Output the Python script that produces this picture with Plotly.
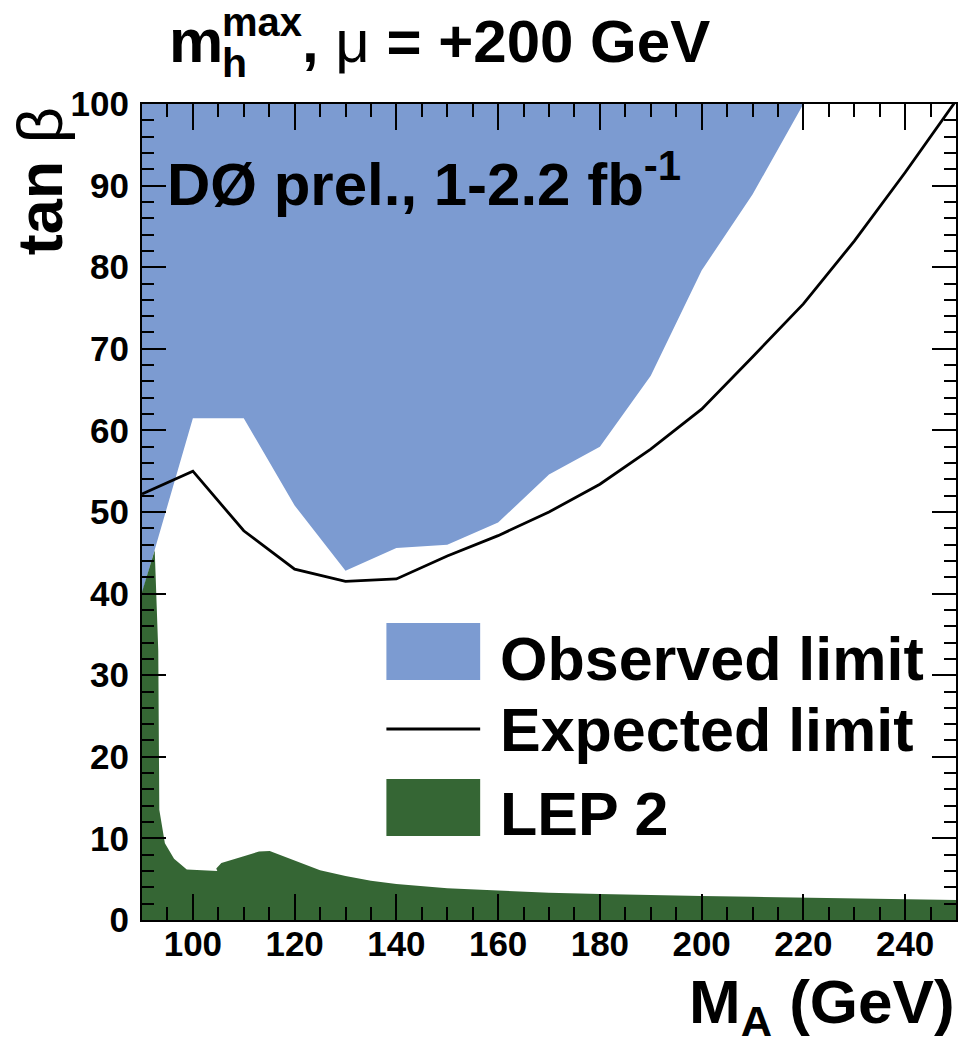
import plotly.graph_objects as go

# Axis ranges
X_MIN, X_MAX = 90, 250
Y_MIN, Y_MAX = 0, 100

# Observed exclusion boundary (excluded above)
obs_ma = [90, 100, 110, 120, 130, 140, 150, 160, 170, 180, 190, 200, 210, 220]
obs_tanb = [40.0, 61.5, 61.5, 50.8, 42.8, 45.6, 46.0, 48.7, 54.6, 58.0, 66.7, 79.6, 88.9, 100.0]

# Expected limit
exp_ma = [90, 100, 110, 120, 130, 140, 150, 160, 170, 180, 190, 200, 210, 220, 230, 240, 250]
exp_tanb = [52.2, 55.0, 47.7, 43.0, 41.5, 41.8, 44.6, 47.1, 50.0, 53.4, 57.7, 62.6, 69.0, 75.5, 83.2, 91.6, 100.4]

# LEP 2 excluded region (upper contour, filled down to tan beta = 0)
lep_ma = [90, 92.5, 93.2, 93.4, 94.5, 96.3, 98.8, 104.8, 104.6, 105.6, 110, 113, 115.1,
          120, 125, 130, 135, 140, 150, 160, 170, 180, 190, 200, 210, 220, 230, 240, 250]
lep_tanb = [40.2, 45.3, 33.0, 13.5, 9.4, 7.5, 6.2, 6.0, 6.3, 7.0, 7.8, 8.4, 8.45,
            7.3, 6.1, 5.4, 4.8, 4.4, 3.9, 3.6, 3.35, 3.2, 3.05, 2.94, 2.85, 2.73, 2.65, 2.57, 2.45]

legend_labels = ["Observed limit", "Expected limit", "LEP 2"]

BLUE = "#7c9bd1"
GREEN = "#356634"
FONT = "Liberation Sans, Arial, sans-serif"

W, H = 962, 1053
L, R, T, B = 142, 4, 104, 133
PW, PH = W - L - R, H - T - B


def px_x(p):
    return (p - L) / PW


def px_y(p):
    return (H - B - p) / PH


fig = go.Figure()

# Observed: fill from the boundary up to the top of the frame
fig.add_trace(go.Scatter(
    x=obs_ma + [obs_ma[-1], obs_ma[0]],
    y=obs_tanb + [Y_MAX, Y_MAX],
    fill="toself", fillcolor=BLUE, mode="lines", line=dict(width=0, color=BLUE),
    hoverinfo="skip", showlegend=False))

# Expected limit line
fig.add_trace(go.Scatter(
    x=exp_ma, y=exp_tanb, mode="lines", line=dict(color="black", width=2.8),
    hoverinfo="skip", showlegend=False))

# LEP 2 region
fig.add_trace(go.Scatter(
    x=lep_ma + [lep_ma[-1], lep_ma[0]],
    y=lep_tanb + [Y_MIN, Y_MIN],
    fill="toself", fillcolor=GREEN, mode="lines", line=dict(width=0, color=GREEN),
    hoverinfo="skip", showlegend=False))

axis_common = dict(
    showgrid=False, zeroline=False, showline=True, linecolor="black", linewidth=2,
    mirror="allticks", ticks="inside", tickcolor="black", tickwidth=1.6,
    tickfont=dict(family=FONT, size=35, color="black", weight="bold"),
)

fig.update_xaxes(
    range=[X_MIN, X_MAX], dtick=20, tick0=0, ticklen=26, ticklabelstandoff=-8,
    minor=dict(ticks="inside", dtick=5, ticklen=13, tickcolor="black", tickwidth=1.6, showgrid=False),
    **axis_common)
fig.update_yaxes(
    range=[Y_MIN, Y_MAX], dtick=10, tick0=0, ticklen=24, ticklabelstandoff=4,
    minor=dict(ticks="inside", dtick=2, ticklen=12, tickcolor="black", tickwidth=1.6, showgrid=False),
    **axis_common)

ann = []


def text(s, x, y, size, xanchor="left", yanchor="bottom", angle=0):
    ann.append(dict(text=s, x=px_x(x), y=px_y(y), xref="paper", yref="paper",
                    xanchor=xanchor, yanchor=yanchor, showarrow=False, textangle=angle,
                    font=dict(family=FONT, size=size, color="black"), borderpad=0))


# Title: m_h^max, mu = +200 GeV
text("<b>m</b>", 168, 76, 61)
text("<b>max</b>", 221, 45, 40)
text("<b>h</b>", 221, 87, 41)
text("<b>, </b>μ<b> = +200 GeV</b>", 301, 76, 60)

# Experiment label
text("<b>DØ prel., 1-2.2 fb<sup>-1</sup></b>", 166, 219, 60)

# Axis titles
text("<b>tan</b> β", 40, 181, 63, xanchor="center", yanchor="middle", angle=-90)
text("<b>M<sub>A</sub> (GeV)</b>", 958, 966, 62, xanchor="right", yanchor="top")

# Legend
text("<b>%s</b>" % legend_labels[0], 500, 694, 61)
text("<b>%s</b>" % legend_labels[1], 500, 765, 61)
text("<b>%s</b>" % legend_labels[2], 500, 849, 61)

shapes = [
    dict(type="rect", xref="paper", yref="paper", x0=px_x(387), x1=px_x(481),
         y0=px_y(680), y1=px_y(623), fillcolor=BLUE, line=dict(width=0)),
    dict(type="line", xref="paper", yref="paper", x0=px_x(387), x1=px_x(481),
         y0=px_y(729), y1=px_y(729), line=dict(color="black", width=2.8)),
    dict(type="rect", xref="paper", yref="paper", x0=px_x(387), x1=px_x(481),
         y0=px_y(836), y1=px_y(779), fillcolor=GREEN, line=dict(width=0)),
]

fig.update_layout(
    width=W, height=H, margin=dict(l=L, r=R, t=T, b=B, pad=0),
    paper_bgcolor="white", plot_bgcolor="white",
    annotations=ann, shapes=shapes, showlegend=False,
)

fig.write_html("out.html", config=dict(displayModeBar=False))
